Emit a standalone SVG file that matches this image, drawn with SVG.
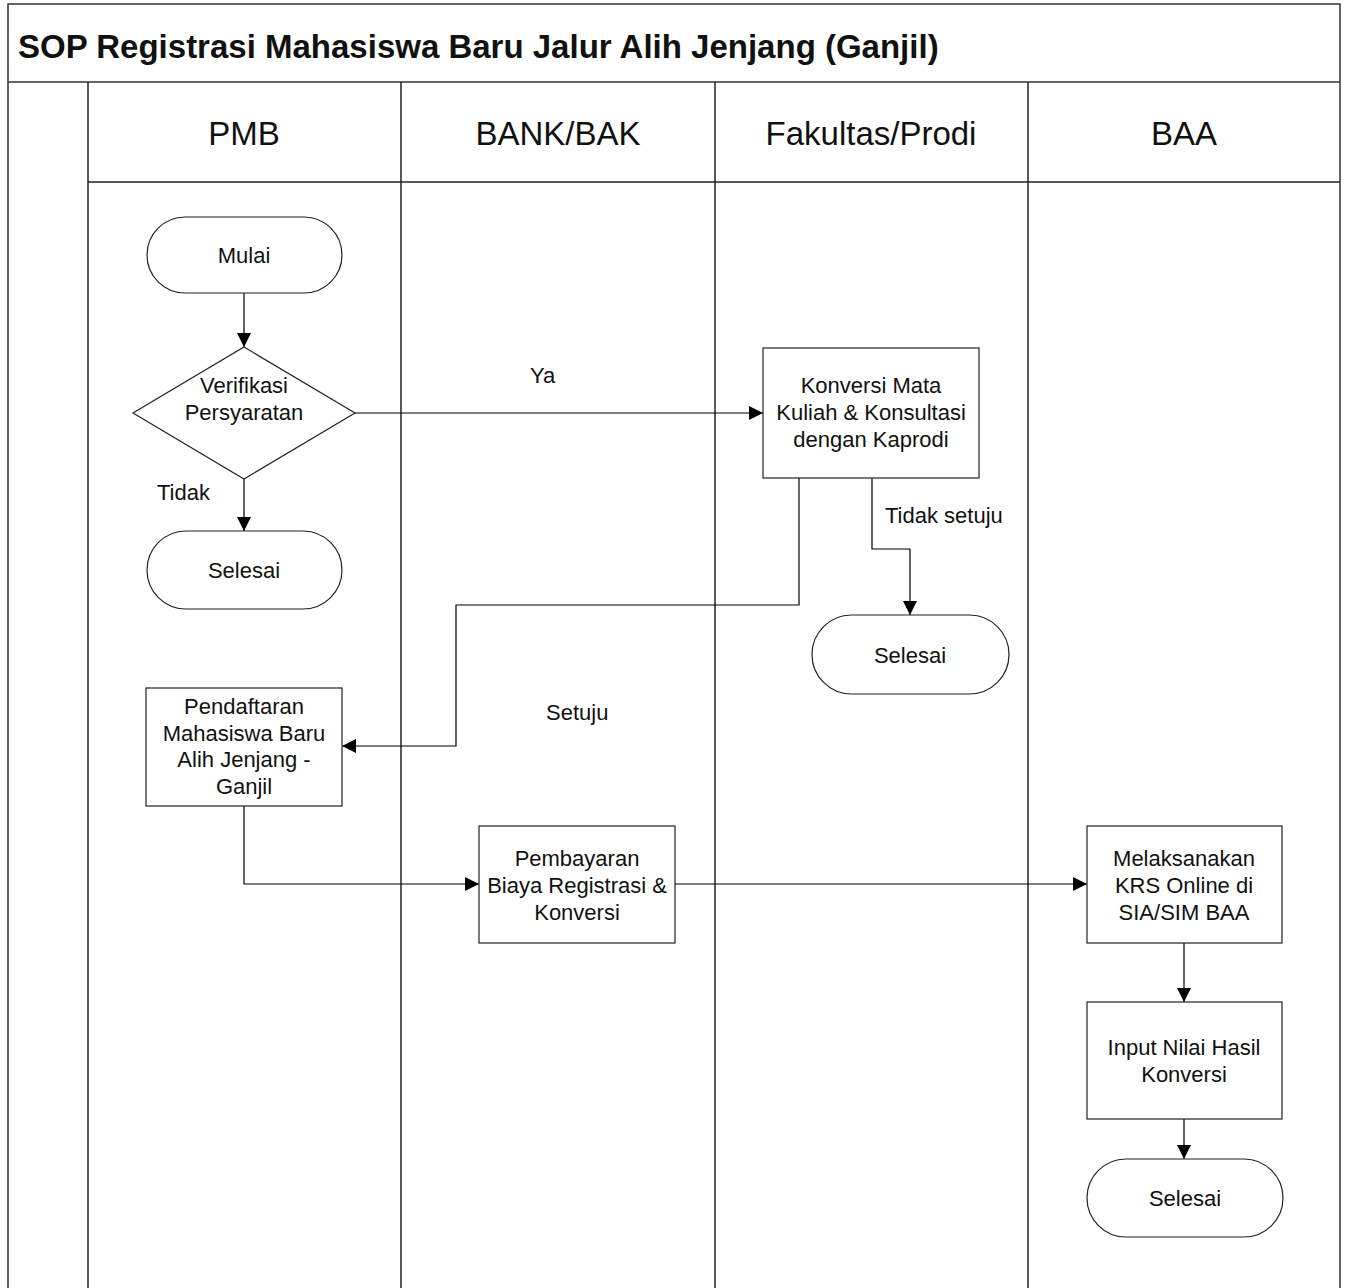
<svg xmlns="http://www.w3.org/2000/svg" width="1346" height="1288" viewBox="0 0 1346 1288">
<style>
.frame{fill:none;stroke:#333;stroke-width:1.5}
.lane{fill:none;stroke:#222;stroke-width:1.5}
.box{fill:#fff;stroke:#222;stroke-width:1.2}
.edge{fill:none;stroke:#000;stroke-width:1.2}
.t{font-family:"Liberation Sans",Arial,sans-serif;font-size:22px;fill:#111;text-anchor:middle}
.lbl{font-family:"Liberation Sans",Arial,sans-serif;font-size:22px;fill:#111}
.hdr{font-family:"Liberation Sans",Arial,sans-serif;font-size:33px;fill:#111;text-anchor:middle}
.title{font-family:"Liberation Sans",Arial,sans-serif;font-size:33px;font-weight:bold;fill:#111}
</style>
<defs>
<marker id="ah" viewBox="0 0 14 14" refX="14" refY="7" markerWidth="14" markerHeight="14" markerUnits="userSpaceOnUse" orient="auto">
<path d="M0,0 L14,7 L0,14 Z" fill="#000"/>
</marker>
</defs>
<rect width="1346" height="1288" fill="#fff"/>
<g id="frame">
<path class="frame" d="M8,1288 V4 H1340 V1288"/>
<line class="frame" x1="8" y1="82" x2="1340" y2="82"/>
<line class="lane" x1="88" y1="182" x2="1340" y2="182"/>
<line class="lane" x1="88" y1="82" x2="88" y2="1288"/>
<line class="lane" x1="401" y1="82" x2="401" y2="1288"/>
<line class="lane" x1="715" y1="82" x2="715" y2="1288"/>
<line class="lane" x1="1028" y1="82" x2="1028" y2="1288"/>
<text class="title" x="18" y="58">SOP Registrasi Mahasiswa Baru Jalur Alih Jenjang (Ganjil)</text>
<text class="hdr" x="244" y="145">PMB</text>
<text class="hdr" x="558" y="145">BANK/BAK</text>
<text class="hdr" x="871" y="145">Fakultas/Prodi</text>
<text class="hdr" x="1184" y="145">BAA</text>
</g>
<g id="connectors">
<line class="edge" x1="244" y1="293" x2="244" y2="347" marker-end="url(#ah)"/>
<line class="edge" x1="244" y1="479" x2="244" y2="531" marker-end="url(#ah)"/>
<line class="edge" x1="355" y1="413" x2="763" y2="413" marker-end="url(#ah)"/>
<polyline class="edge" points="799,478 799,605 456,605 456,746 342,746" marker-end="url(#ah)"/>
<polyline class="edge" points="872,478 872,549 910,549 910,615" marker-end="url(#ah)"/>
<polyline class="edge" points="244,806 244,884 479,884" marker-end="url(#ah)"/>
<line class="edge" x1="675" y1="884" x2="1087" y2="884" marker-end="url(#ah)"/>
<line class="edge" x1="1184" y1="943" x2="1184" y2="1002" marker-end="url(#ah)"/>
<line class="edge" x1="1184" y1="1119" x2="1184" y2="1159" marker-end="url(#ah)"/>
<text class="lbl" x="530" y="383">Ya</text>
<text class="lbl" x="157" y="500">Tidak</text>
<text class="lbl" x="885" y="523">Tidak setuju</text>
<text class="lbl" x="546" y="720">Setuju</text>
</g>
<g id="mulai">
<rect class="box" x="147" y="217" width="195" height="76" rx="38"/>
<text class="t" x="244" y="263">Mulai</text>
</g>
<g id="verifikasi">
<polygon class="box" points="244,347 355,413 244,479 133,413"/>
<text class="t" x="244" y="393">Verifikasi</text>
<text class="t" x="244" y="420">Persyaratan</text>
</g>
<g id="selesai1">
<rect class="box" x="147" y="531" width="195" height="78" rx="39"/>
<text class="t" x="244" y="578">Selesai</text>
</g>
<g id="konversi">
<rect class="box" x="763" y="348" width="216" height="130"/>
<text class="t" x="871" y="393">Konversi Mata</text>
<text class="t" x="871" y="420">Kuliah &amp; Konsultasi</text>
<text class="t" x="871" y="447">dengan Kaprodi</text>
</g>
<g id="selesai2">
<rect class="box" x="812" y="615" width="197" height="79" rx="39.5"/>
<text class="t" x="910" y="663">Selesai</text>
</g>
<g id="pendaftaran">
<rect class="box" x="146" y="688" width="196" height="118"/>
<text class="t" x="244" y="714">Pendaftaran</text>
<text class="t" x="244" y="741">Mahasiswa Baru</text>
<text class="t" x="244" y="767">Alih Jenjang -</text>
<text class="t" x="244" y="794">Ganjil</text>
</g>
<g id="pembayaran">
<rect class="box" x="479" y="826" width="196" height="117"/>
<text class="t" x="577" y="866">Pembayaran</text>
<text class="t" x="577" y="893">Biaya Registrasi &amp;</text>
<text class="t" x="577" y="920">Konversi</text>
</g>
<g id="krs">
<rect class="box" x="1087" y="826" width="195" height="117"/>
<text class="t" x="1184" y="866">Melaksanakan</text>
<text class="t" x="1184" y="893">KRS Online di</text>
<text class="t" x="1184" y="920">SIA/SIM BAA</text>
</g>
<g id="input">
<rect class="box" x="1087" y="1002" width="195" height="117"/>
<text class="t" x="1184" y="1055">Input Nilai Hasil</text>
<text class="t" x="1184" y="1082">Konversi</text>
</g>
<g id="selesai3">
<rect class="box" x="1087" y="1159" width="196" height="78" rx="39"/>
<text class="t" x="1185" y="1206">Selesai</text>
</g>
</svg>
